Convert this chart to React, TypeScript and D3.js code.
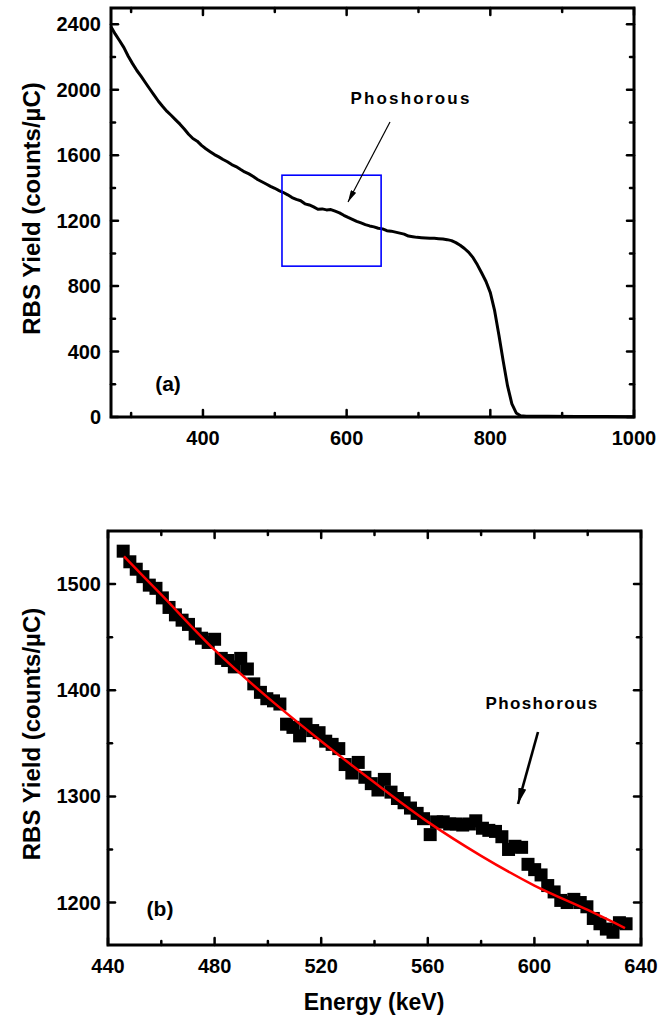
import React from "react";
import * as d3 from "d3";

// ---------- Panel (a): full RBS spectrum ----------
const spectrumEnergy = [272,278,284,290,296,302,308,314,320,326,332,338,344,350,356,362,368,374,380,386,392,398,404,410,416,422,428,434,440,446,452,458,464,470,476,482,488,494,500,506,512,518,524,530,536,542,548,554,560,566,572,578,584,590,596,602,608,614,620,626,632,638,644,650,656,662,668,674,680,686,692,698,704,710,716,722,728,734,740,746,752,758,764,770,776,782,788,794,800,806,812,818,824,830,836,842,850,880,920,960,1000];
const spectrumYield = [2385,2340,2300,2258,2205,2160,2118,2082,2043,2005,1968,1930,1898,1868,1843,1816,1790,1760,1728,1702,1686,1660,1640,1622,1604,1590,1574,1560,1543,1531,1514,1498,1486,1470,1452,1438,1424,1410,1398,1384,1372,1358,1341,1330,1322,1303,1296,1284,1270,1272,1266,1268,1258,1248,1233,1220,1208,1196,1186,1176,1168,1162,1154,1150,1139,1136,1130,1124,1118,1106,1102,1098,1096,1094,1092,1092,1090,1088,1084,1078,1066,1050,1030,1006,974,930,880,828,760,650,500,340,190,80,25,8,5,4,3,3,2];
const aXMajor = [400, 600, 800, 1000];
const aXMinor = [300, 500, 700, 900];
const aYMajor = [0, 400, 800, 1200, 1600, 2000, 2400];
const aYMinor = [200, 600, 1000, 1400, 1800, 2200];
const zoomBox = { e0: 510, e1: 648, y0: 922, y1: 1478 };

// ---------- Panel (b): zoomed region with fit ----------
const pointEnergy = [445.7,448.2,450.6,453.1,455.5,458.0,460.4,462.9,465.3,467.8,470.2,472.7,475.1,477.6,480.0,482.5,484.9,487.4,489.8,492.3,494.7,497.2,499.6,502.1,504.5,507.0,509.4,511.9,514.3,516.8,519.2,521.7,524.1,526.6,529.0,531.5,533.9,536.4,538.8,541.3,543.7,546.2,548.6,551.1,553.5,556.0,558.4,560.9,563.3,565.8,568.2,570.7,573.1,575.6,578.0,580.5,582.9,585.4,587.8,590.3,592.7,595.2,597.6,600.1,602.5,605.0,607.4,609.9,612.3,614.8,617.2,619.7,622.1,624.6,627.0,629.5,631.9,634.4];
const pointYield = [1531,1521,1514,1507,1499,1496,1487,1478,1471,1466,1462,1453,1449,1445,1448,1430,1428,1422,1430,1420,1406,1398,1392,1390,1387,1368,1365,1357,1368,1362,1360,1352,1349,1345,1330,1322,1332,1318,1312,1306,1316,1304,1298,1294,1289,1284,1279,1264,1276,1276,1274,1274,1273,1274,1277,1270,1268,1267,1262,1250,1253,1252,1236,1231,1226,1216,1210,1202,1200,1203,1200,1196,1185,1180,1175,1172,1181,1180];
const fitEnergy = [446, 460, 480, 500, 520, 540, 560, 580, 600, 620, 634];
const fitYield = [1526, 1490, 1438, 1393, 1352, 1313, 1276, 1244, 1216, 1193, 1176];
const bXMajor = [440, 480, 520, 560, 600, 640];
const bXMinor = [460, 500, 540, 580, 620];
const bYMajor = [1200, 1300, 1400, 1500];
const bYMinor = [1250, 1350, 1450];

const FONT = "Arial, 'Liberation Sans', Helvetica, sans-serif";

function Frame({ x, y, left, right, top, bottom, xMajor, xMinor, yMajor, yMinor }: any) {
  const maj = 7, min = 4;
  return (
    <g stroke="#000" strokeWidth={2.5} strokeLinecap="round">
      {xMajor.map((v: number) => (
        <g key={"xM" + v}>
          <line x1={x(v)} x2={x(v)} y1={bottom} y2={bottom - maj} />
          <line x1={x(v)} x2={x(v)} y1={top} y2={top + maj} />
        </g>
      ))}
      {xMinor.map((v: number) => (
        <g key={"xm" + v}>
          <line x1={x(v)} x2={x(v)} y1={bottom} y2={bottom - min} />
          <line x1={x(v)} x2={x(v)} y1={top} y2={top + min} />
        </g>
      ))}
      {yMajor.map((v: number) => (
        <g key={"yM" + v}>
          <line x1={left} x2={left + maj} y1={y(v)} y2={y(v)} />
          <line x1={right} x2={right - maj} y1={y(v)} y2={y(v)} />
        </g>
      ))}
      {yMinor.map((v: number) => (
        <g key={"ym" + v}>
          <line x1={left} x2={left + min} y1={y(v)} y2={y(v)} />
          <line x1={right} x2={right - min} y1={y(v)} y2={y(v)} />
        </g>
      ))}
      <rect x={left} y={top} width={right - left} height={bottom - top} fill="none" strokeWidth={3} />
    </g>
  );
}

export default function App() {
  // panel a geometry
  const aL = 111, aR = 634, aT = 8, aB = 417;
  const xa = d3.scaleLinear().domain([272, 1000]).range([aL, aR]);
  const ya = d3.scaleLinear().domain([0, 2500]).range([aB, aT]);
  const specData = spectrumEnergy.map((e, i) => [e, spectrumYield[i]] as [number, number]);
  const specLine = d3.line<[number, number]>().x(d => xa(d[0])).y(d => ya(d[1]));

  // panel b geometry
  const bL = 108, bR = 641, bT = 531, bB = 945;
  const xb = d3.scaleLinear().domain([440, 640]).range([bL, bR]);
  const yb = d3.scaleLinear().domain([1160, 1550]).range([bB, bT]);
  const fitData = fitEnergy.map((e, i) => [e, fitYield[i]] as [number, number]);
  const fitLine = d3.line<[number, number]>().x(d => xb(d[0])).y(d => yb(d[1])).curve(d3.curveCatmullRom);
  const sq = 13;

  const tickFont = { fontFamily: FONT, fontWeight: 700, fontSize: 20 } as any;
  const titleFont = { fontFamily: FONT, fontWeight: 700, fontSize: 24 } as any;

  return (
    <svg width={659} height={1018} style={{ position: "absolute", left: 0, top: 0, background: "#fff" }}>
      <defs>
        <marker id="headThin" viewBox="0 0 12 6" refX="12" refY="3" markerWidth="12" markerHeight="6" markerUnits="userSpaceOnUse" orient="auto">
          <path d="M0,0 L12,3 L0,6 Z" fill="#000" />
        </marker>
        <marker id="headThick" viewBox="0 0 16 8" refX="16" refY="4" markerWidth="16" markerHeight="9" markerUnits="userSpaceOnUse" orient="auto">
          <path d="M0,0 L16,4 L0,8 Z" fill="#000" />
        </marker>
      </defs>
      <rect x={0} y={0} width={659} height={1018} fill="#fff" />

      {/* ===== Panel (a) ===== */}
      <path d={specLine(specData) || ""} fill="none" stroke="#000" strokeWidth={3} strokeLinejoin="round" />
      <rect x={xa(zoomBox.e0)} y={ya(zoomBox.y1)} width={xa(zoomBox.e1) - xa(zoomBox.e0)} height={ya(zoomBox.y0) - ya(zoomBox.y1)} fill="none" stroke="#0000ff" strokeWidth={1.6} />
      <Frame x={xa} y={ya} left={aL} right={aR} top={aT} bottom={aB} xMajor={aXMajor} xMinor={aXMinor} yMajor={aYMajor} yMinor={aYMinor} />
      {aYMajor.map(v => (
        <text key={"ayl" + v} x={101} y={ya(v) + 7} textAnchor="end" style={tickFont}>{v}</text>
      ))}
      {aXMajor.map(v => (
        <text key={"axl" + v} x={xa(v)} y={445} textAnchor="middle" style={tickFont}>{v}</text>
      ))}
      <text transform={`translate(40,${(aT + aB) / 2 - 4}) rotate(-90)`} textAnchor="middle" style={titleFont}>RBS Yield (counts/µC)</text>
      <text x={168} y={391} textAnchor="middle" style={{ fontFamily: FONT, fontWeight: 700, fontSize: 21 }}>(a)</text>
      <text x={411} y={104} textAnchor="middle" style={{ fontFamily: FONT, fontWeight: 700, fontSize: 17, letterSpacing: 2.2 }}>Phoshorous</text>
      <line x1={390} y1={122} x2={348} y2={202} stroke="#000" strokeWidth={1.2} markerEnd="url(#headThin)" />

      {/* ===== Panel (b) ===== */}
      {pointEnergy.map((e, i) => (
        <rect key={"p" + i} x={xb(e) - sq / 2} y={yb(pointYield[i]) - sq / 2} width={sq} height={sq} fill="#000" />
      ))}
      <path d={fitLine(fitData) || ""} fill="none" stroke="#ff0000" strokeWidth={2.5} />
      <Frame x={xb} y={yb} left={bL} right={bR} top={bT} bottom={bB} xMajor={bXMajor} xMinor={bXMinor} yMajor={bYMajor} yMinor={bYMinor} />
      {bYMajor.map(v => (
        <text key={"byl" + v} x={101} y={yb(v) + 7} textAnchor="end" style={tickFont}>{v}</text>
      ))}
      {bXMajor.map(v => (
        <text key={"bxl" + v} x={xb(v)} y={973} textAnchor="middle" style={tickFont}>{v}</text>
      ))}
      <text transform={`translate(40,${(bT + bB) / 2 - 4}) rotate(-90)`} textAnchor="middle" style={titleFont}>RBS Yield (counts/µC)</text>
      <text x={374} y={1010} textAnchor="middle" style={{ fontFamily: FONT, fontWeight: 700, fontSize: 23 }}>Energy (keV)</text>
      <text x={160} y={916} textAnchor="middle" style={{ fontFamily: FONT, fontWeight: 700, fontSize: 21 }}>(b)</text>
      <text x={542} y={709} textAnchor="middle" style={{ fontFamily: FONT, fontWeight: 700, fontSize: 17, letterSpacing: 1.4 }}>Phoshorous</text>
      <line x1={538} y1={732} x2={518} y2={804} stroke="#000" strokeWidth={2.6} markerEnd="url(#headThick)" />
    </svg>
  );
}
